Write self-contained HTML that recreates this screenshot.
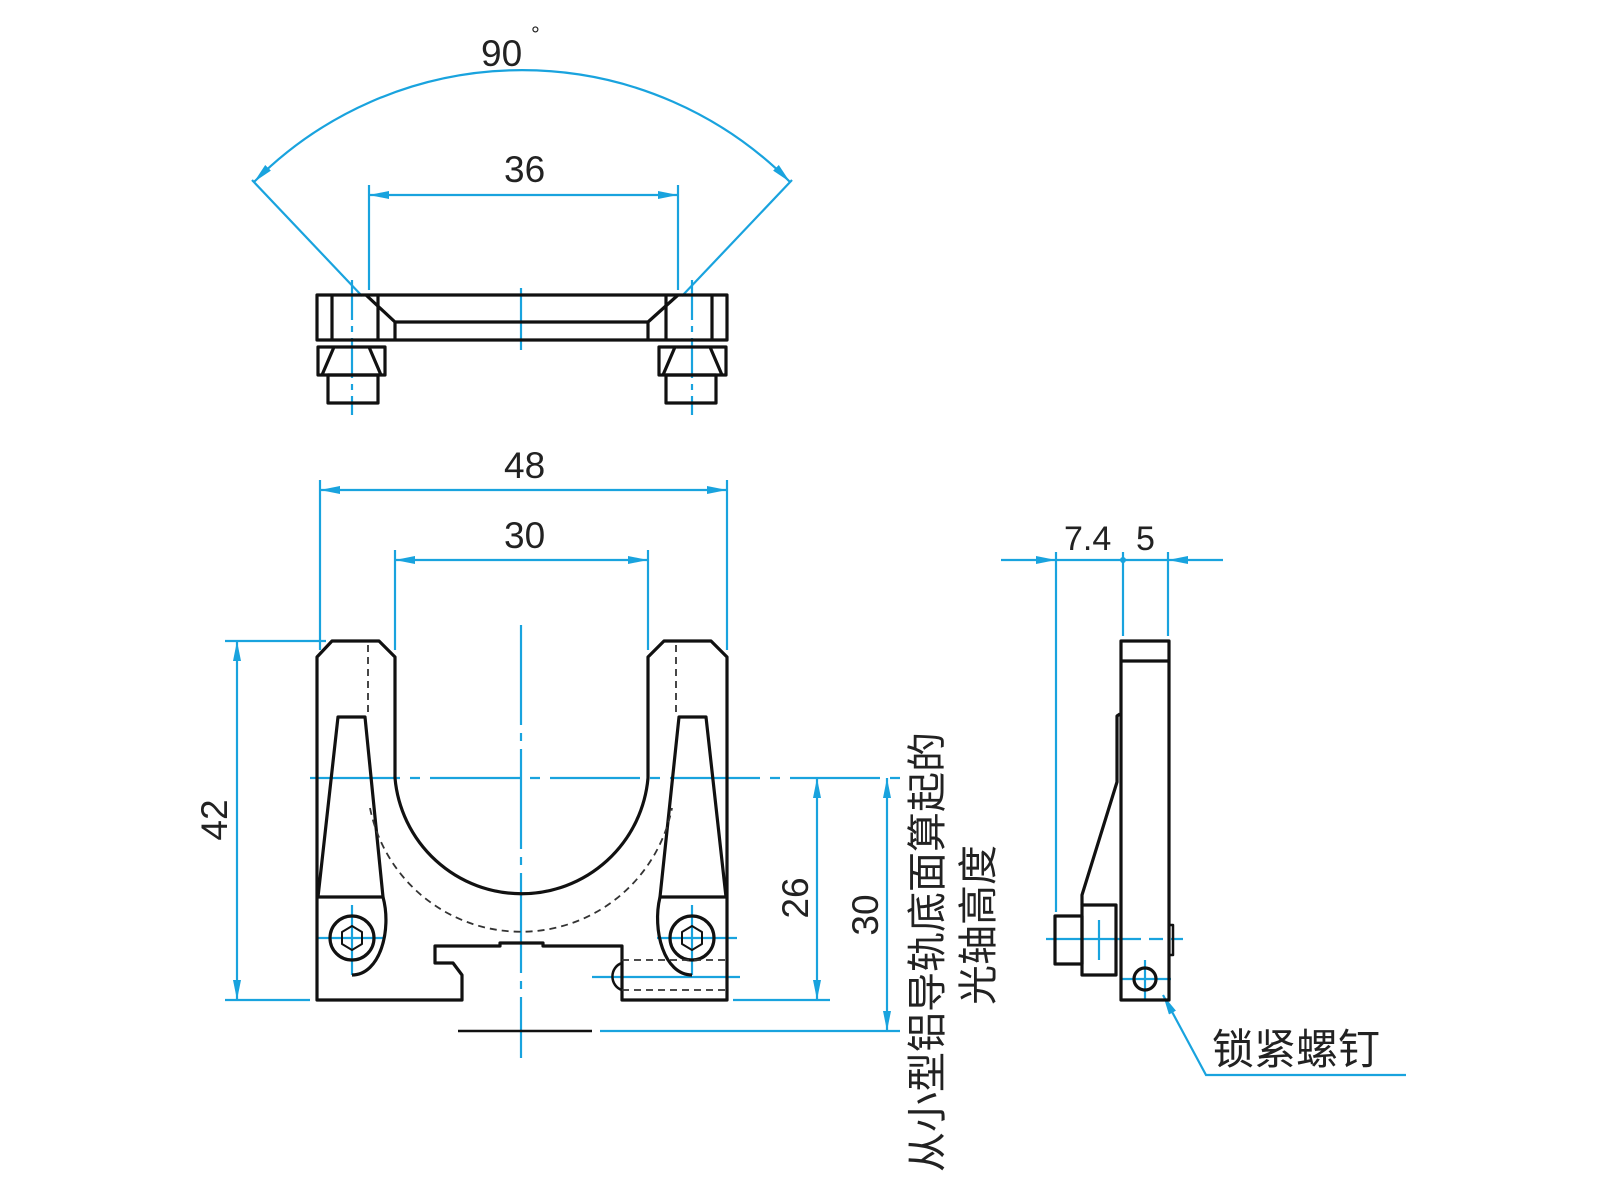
<!DOCTYPE html>
<html><head><meta charset="utf-8"><style>
html,body{margin:0;padding:0;background:#fff;width:1600px;height:1200px;overflow:hidden}
svg{display:block}
text{font-family:"Liberation Sans","Noto Sans CJK SC",sans-serif;fill:#222}
</style></head><body>
<svg width="1600" height="1200" viewBox="0 0 1600 1200" xmlns="http://www.w3.org/2000/svg">
<defs>
<marker id="a" viewBox="0 0 20 8" refX="20" refY="4" markerWidth="20" markerHeight="8" markerUnits="userSpaceOnUse" orient="auto-start-reverse"><path d="M0,0 L20,4 L0,8 z" fill="#19a3de"/></marker>
</defs>
<g stroke="#19a3de" stroke-width="2.2" fill="none">
<path d="M254,182 A377,377 0 0 1 790,182" marker-start="url(#a)" marker-end="url(#a)"/>
<line x1="252" y1="180" x2="362" y2="296"/><line x1="792" y1="180" x2="682" y2="296"/>
<line x1="369" y1="195" x2="678" y2="195" marker-start="url(#a)" marker-end="url(#a)"/>
<line x1="369" y1="185" x2="369" y2="290"/><line x1="678" y1="185" x2="678" y2="290"/>
<line x1="521" y1="288" x2="521" y2="350"/>
<line x1="352" y1="280" x2="352" y2="415" stroke-dasharray="40 6 6 6"/>
<line x1="692" y1="280" x2="692" y2="415" stroke-dasharray="40 6 6 6"/>
<line x1="320" y1="490" x2="727" y2="490" marker-start="url(#a)" marker-end="url(#a)"/>
<line x1="320" y1="480" x2="320" y2="650"/><line x1="727" y1="480" x2="727" y2="650"/>
<line x1="395" y1="560" x2="648" y2="560" marker-start="url(#a)" marker-end="url(#a)"/>
<line x1="395" y1="550" x2="395" y2="650"/><line x1="648" y1="550" x2="648" y2="650"/>
<line x1="237" y1="641" x2="237" y2="1000" marker-start="url(#a)" marker-end="url(#a)"/>
<line x1="225" y1="641" x2="326" y2="641"/><line x1="225" y1="1000" x2="310" y2="1000"/>
<line x1="310" y1="778" x2="900" y2="778" stroke-dasharray="90 10 10 10"/>
<line x1="521" y1="625" x2="521" y2="1058" stroke-dasharray="100 8 8 8"/>
<line x1="600" y1="1031" x2="900" y2="1031"/>
<line x1="733" y1="1000" x2="830" y2="1000"/>
<line x1="817" y1="778" x2="817" y2="1000" marker-start="url(#a)" marker-end="url(#a)"/>
<line x1="887" y1="778" x2="887" y2="1031" marker-start="url(#a)" marker-end="url(#a)"/>
<line x1="352" y1="905" x2="352" y2="975"/><line x1="317" y1="938" x2="385" y2="938"/>
<line x1="692" y1="905" x2="692" y2="975"/><line x1="657" y1="938" x2="737" y2="938"/>
<line x1="592" y1="977" x2="740" y2="977"/>
<g transform="translate(-9,0)">
<line x1="1010" y1="560" x2="1065" y2="560" marker-end="url(#a)"/>
<line x1="1232" y1="560" x2="1177" y2="560" marker-end="url(#a)"/>
<line x1="1065" y1="560" x2="1177" y2="560"/>
<line x1="1065" y1="552" x2="1065" y2="912"/>
<line x1="1132" y1="552" x2="1132" y2="636"/>
<line x1="1177" y1="552" x2="1177" y2="636"/>
<line x1="1055" y1="939" x2="1192" y2="939" stroke-dasharray="95 8 14 8"/>
<line x1="1108" y1="920" x2="1108" y2="960"/>
<line x1="1154" y1="960" x2="1154" y2="1000"/><line x1="1130" y1="979" x2="1180" y2="979"/>
<polyline points="1415,1075 1215,1075 1172,995" marker-end="url(#a)"/>
</g>
</g>
<circle cx="1123" cy="560" r="3" fill="#19a3de"/>
<g stroke="#111" stroke-width="3.2" fill="none" stroke-linejoin="round">
<rect x="317" y="295" width="410" height="45"/>
<line x1="332" y1="295" x2="332" y2="340"/><line x1="712" y1="295" x2="712" y2="340"/>
<line x1="378" y1="295" x2="378" y2="340"/><line x1="666" y1="295" x2="666" y2="340"/>
<polyline points="366,295 395,322 648,322 678,295"/>
<line x1="395" y1="322" x2="395" y2="340"/><line x1="648" y1="322" x2="648" y2="340"/>
<path d="M318,347 H385 V375 H318 Z M322,375 L334,347 M381,375 L369,347"/>
<rect x="328" y="375" width="50" height="28"/>
<path d="M659,347 H726 V375 H659 Z M663,375 L675,347 M722,375 L710,347"/>
<rect x="666" y="375" width="50" height="28"/>
<path d="M317,1000 V657 L332,641 H379 L395,657 V778 A127,127 0 0 0 648,778 V657 L664,641 H711 L727,657 V1000 H622 V946 H543 V943 H500 V946 H435 V963 H453 L462,975 V1000 Z"/>
<path d="M338,717 H365 L383,897 H318 Z M317,897 H383"/>
<path d="M679,717 H706 L726,897 H660 Z M660,897 H726"/>
<path d="M383,897 C392,930 380,975 352,975" />
<path d="M660,897 C652,930 664,975 692,975" />
<circle cx="352" cy="938" r="22"/><circle cx="692" cy="938" r="22"/>
<polygon points="352,926 362,932 362,944 352,950 342,944 342,932" stroke-width="2"/>
<polygon points="692,926 702,932 702,944 692,950 682,944 682,932" stroke-width="2"/>
<path d="M622,963 A13,14 0 0 0 622,990" stroke-width="2.5"/>
<line x1="458" y1="1031" x2="592" y2="1031" stroke-width="2.5"/>
<g transform="translate(-9,0)">
<rect x="1130" y="641" width="48" height="359"/>
<line x1="1130" y1="661" x2="1178" y2="661"/>
<polyline points="1129,714 1126,716 1126,782 1091,895 1091,905"/>
<rect x="1091" y="905" width="34" height="70"/>
<rect x="1064" y="916" width="27" height="48"/>
<circle cx="1154" cy="979" r="11"/>
<path d="M1178,925 H1182 V955 H1178" stroke-width="2.5"/>
</g>
</g>
<g stroke="#333" stroke-width="1.8" fill="none" stroke-dasharray="7 5">
<line x1="368" y1="645" x2="368" y2="715"/><line x1="676" y1="645" x2="676" y2="715"/>
<path d="M370,808 A154,154 0 0 0 672,808"/>
<line x1="622" y1="960" x2="725" y2="960"/><line x1="622" y1="990" x2="725" y2="990"/>
</g>
<g font-size="37">
<text x="481" y="66">90</text><text x="531" y="42" font-size="22">°</text>
<text x="504" y="182">36</text>
<text x="504" y="478">48</text>
<text x="504" y="548">30</text>
<text transform="translate(227,820) rotate(-90)" text-anchor="middle">42</text>
<text transform="translate(808,898) rotate(-90)" text-anchor="middle">26</text>
<text transform="translate(878,915) rotate(-90)" text-anchor="middle">30</text>
<text x="1064" y="550" font-size="34">7.4</text><text x="1136" y="550" font-size="34">5</text>
</g>
<g font-size="40">
<text transform="translate(941,1172) rotate(-90)">从小型铝导轨底面算起的</text>
<text transform="translate(992,1005) rotate(-90)">光轴高度</text>
<text x="1212" y="1064" font-size="42">锁紧螺钉</text>
</g>
</svg>
</body></html>
